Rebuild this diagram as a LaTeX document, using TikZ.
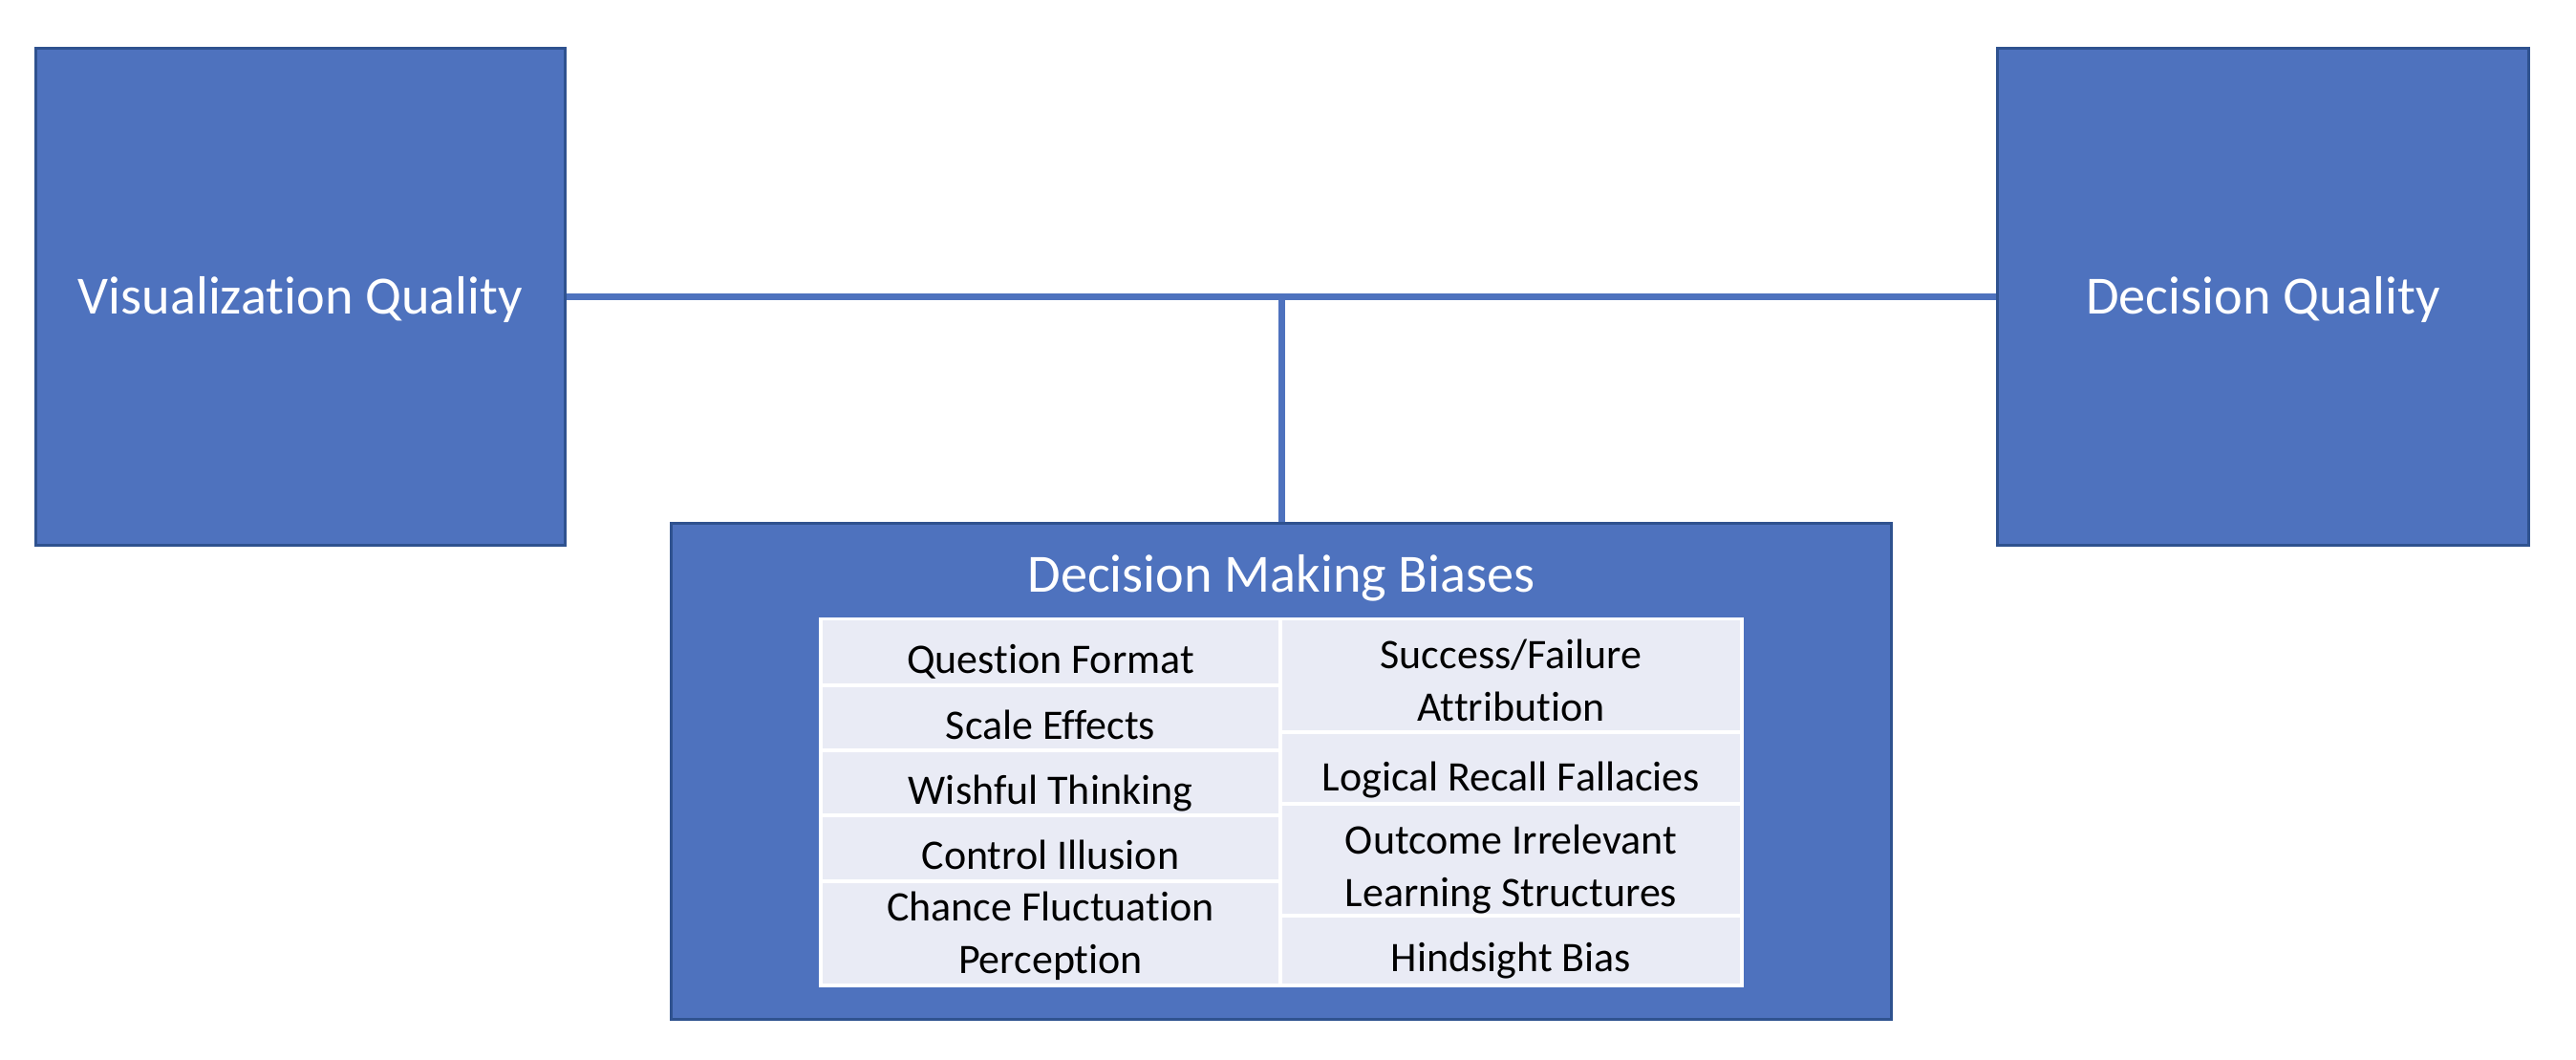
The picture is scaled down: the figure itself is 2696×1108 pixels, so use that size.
\documentclass[tikz,border=0pt]{standalone}
\usepackage{fontspec}
\setmainfont{Carlito}[Ligatures=NoCommon]
\definecolor{boxfill}{HTML}{4E72BE}
\definecolor{boxedge}{HTML}{2F528F}
\definecolor{cellfill}{HTML}{E9EBF5}
\definecolor{linkcol}{HTML}{4E72BE}
\newcommand\mybigfont{\fontsize{16pt}{19.5pt}\selectfont}
\newcommand\mycellfont{\fontsize{12.5pt}{15.6pt}\selectfont}
\begin{document}
\begin{tikzpicture}[x=0.01cm,y=-0.01cm,
  bluebox/.style={rectangle, draw=boxedge, fill=boxfill, line width=0.03cm, inner sep=0pt},
  bigtext/.style={text=white, font=\mybigfont},
  cellbox/.style={rectangle, fill=cellfill, draw=white, line width=0.035cm, inner sep=0pt,
    font=\mycellfont, align=center, text=black},
  oneline/.style={cellbox, text height=0.44cm, text depth=0cm},
  twoline/.style={cellbox},
  celltext/.style={font=\mycellfont, align=center, text=black, inner sep=0pt},
  leftcol/.style={minimum width=4.81cm},
  rightcol/.style={minimum width=4.83cm},
  link/.style={draw=linkcol, line width=0.07cm}]
\useasboundingbox (0,0) rectangle (2696,1108);

% top boxes
\node[bluebox, bigtext, minimum width=5.53cm, minimum height=5.19cm, text height=0.35cm, text depth=0cm]
  (vq) at (314.5,310.5) {Visualization Quality};
\node[bluebox, bigtext, minimum width=5.55cm, minimum height=5.19cm, text height=0.35cm, text depth=0cm]
  (dq) at (2368.5,310.5) {Decision Quality};

% bottom box
\node[bluebox, minimum width=12.76cm, minimum height=5.18cm] (dmb) at (1341,807) {};
\node[bigtext, anchor=base, inner sep=0pt] (title) at (1341,619) {Decision Making Biases};

% left column cells
\node[oneline, leftcol, minimum height=0.695cm] (c1) at (1099.5,682.25) {Question Format};
\node[oneline, leftcol, minimum height=0.68cm] (c2) at (1099.5,751) {Scale Effects};
\node[oneline, leftcol, minimum height=0.68cm] (c3) at (1099.5,819) {Wishful Thinking};
\node[oneline, leftcol, minimum height=0.69cm] (c4) at (1099.5,887.5) {Control Illusion};
\node[twoline, leftcol, minimum height=1.09cm] (c5) at (1099.5,976.5) {};
\node[celltext, yshift=-0.03cm] (t5) at (c5.center) {Chance Fluctuation\\Perception};

% right column cells
\node[twoline, rightcol, minimum height=1.185cm] (d1) at (1581.5,706.75) {};
\node[celltext, yshift=-0.05cm] (u1) at (d1.center) {Success/Failure\\Attribution};
\node[oneline, rightcol, minimum height=0.75cm, text height=0.47cm] (d2) at (1581.5,803.5) {Logical Recall Fallacies};
\node[twoline, rightcol, minimum height=1.17cm] (d3) at (1581.5,899.5) {};
\node[celltext, yshift=-0.10cm] (u3) at (d3.center) {Outcome Irrelevant\\Learning Structures};
\node[oneline, rightcol, minimum height=0.73cm] (d4) at (1581.5,994.5) {Hindsight Bias};

% connectors
\draw[link] (vq.east) -- (dq.west);
\coordinate (j) at (vq.east -| dmb.north);
\draw[link] (j) -- (dmb.north);
\end{tikzpicture}
\end{document}
